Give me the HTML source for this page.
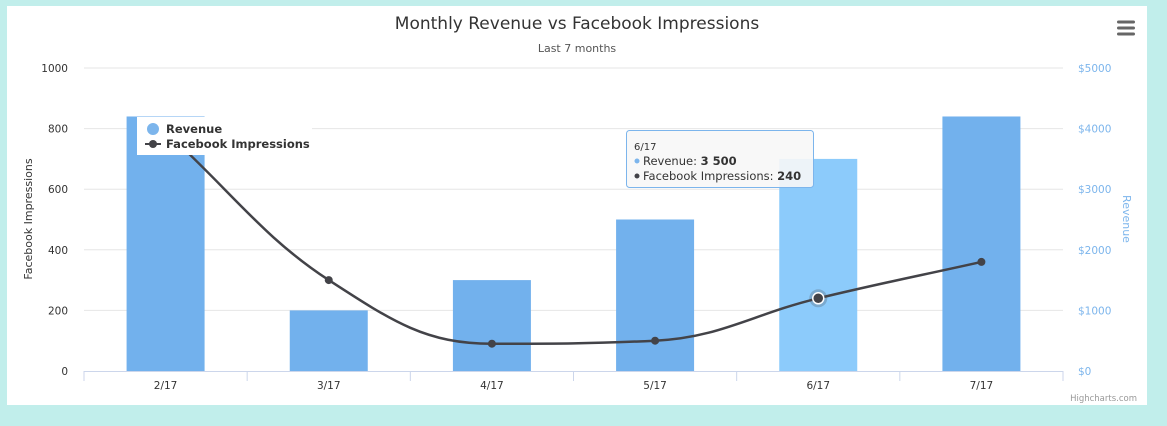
<!DOCTYPE html>
<html><head><meta charset="utf-8"><style>
body{margin:0;background:#c1eeeb;font-family:"DejaVu Sans","Liberation Sans",sans-serif;}
#wrap{position:absolute;left:7px;top:6px;width:1140px;height:399px;background:#fff;}
svg{position:absolute;left:0;top:0;font-family:"DejaVu Sans","Liberation Sans",sans-serif}
</style></head><body>
<div id="wrap"></div>
<svg id="c" width="1167" height="426"></svg>
<script>
const categories=["2/17","3/17","4/17","5/17","6/17","7/17"];
const revenue=[4200,1000,1500,2500,3500,4200];
const impressions=[790,300,90,100,240,360];
const leftTicks=[0,200,400,600,800,1000];
const rightTicks=["$0","$1000","$2000","$3000","$4000","$5000"];
const NS="http://www.w3.org/2000/svg";
const svg=document.getElementById('c');
function mk(t,a,txt){const e=document.createElementNS(NS,t);for(const k in a)e.setAttribute(k,a[k]);if(txt!=null)e.textContent=txt;svg.appendChild(e);return e;}
const X0=84,X1=1063,Y0=371,Y1=68;
const cw=(X1-X0)/categories.length;
const xc=i=>X0+cw*(i+0.5);
const yL=v=>Y0-(v/1000)*(Y0-Y1);
const yR=v=>Y0-(v/5000)*(Y0-Y1);
leftTicks.forEach((t,i)=>{const y=yL(t);
 if(i>0){const g=mk('line',{x1:X0,x2:X1,y1:y,y2:y,stroke:'#e6e6e6'});}
 const l=mk('text',{x:68,y:y+4,'text-anchor':'end','font-size':10.5,fill:'#333'},t);
 const r=mk('text',{x:1078,y:y+4,'font-size':10.5,fill:'#7cb5ec'},rightTicks[i]);
});
revenue.forEach((v,i)=>{const b=mk('rect',{x:xc(i)-39,y:yR(v),width:78,height:Y0-yR(v),fill:i==4?'#8ccbfb':'#72b1ed'});
 });
const ax=mk('line',{x1:X0,x2:X1,y1:Y0+0.5,y2:Y0+0.5,stroke:'#ccd6eb'});
for(let i=0;i<=categories.length;i++){const x=X0+cw*i;mk('line',{x1:x,x2:x,y1:Y0,y2:Y0+10,stroke:'#ccd6eb'});}
categories.forEach((c,i)=>{const t=mk('text',{x:xc(i),y:389,'text-anchor':'middle','font-size':10.5,fill:'#333'},c);});
const pts=impressions.map((v,i)=>[xc(i),yL(v)]);
let d='M'+pts[0][0]+','+pts[0][1];
function ctl(i){const p=pts[i],a=pts[i-1]||p,b=pts[i+1]||p;const s=1.5,den=s+1;
 let lx=(s*p[0]+a[0])/den,ly=(s*p[1]+a[1])/den,rx=(s*p[0]+b[0])/den,ry=(s*p[1]+b[1])/den;
 if(i>0&&i<pts.length-1){const cor=((ry-ly)*(rx-p[0]))/(rx-lx)+p[1]-ry;ly+=cor;ry+=cor;
  if(ly>Math.max(a[1],p[1])||ly<Math.min(a[1],p[1])){ly=Math.max(Math.min(ly,Math.max(a[1],p[1])),Math.min(a[1],p[1]));ry=2*p[1]-ly;}
  if(ry>Math.max(b[1],p[1])||ry<Math.min(b[1],p[1])){ry=Math.max(Math.min(ry,Math.max(b[1],p[1])),Math.min(b[1],p[1]));ly=2*p[1]-ry;}}
 return [[lx,ly],[rx,ry]];}
for(let i=1;i<pts.length;i++){const c1=ctl(i-1)[1],c2=ctl(i)[0];d+=` C${c1[0]},${c1[1]} ${c2[0]},${c2[1]} ${pts[i][0]},${pts[i][1]}`;}
const ln=mk('path',{d:d,fill:'none',stroke:'#434348','stroke-width':2.5});
pts.forEach((p,i)=>{if(i==4){mk('circle',{cx:p[0],cy:p[1],r:9,fill:'#434348','fill-opacity':0.25});const m=mk('circle',{cx:p[0],cy:p[1],r:5.5,fill:'#434348',stroke:'#fff','stroke-width':1.5});}
 else{const m=mk('circle',{cx:p[0],cy:p[1],r:4,fill:'#434348'});}});
let t=mk('text',{x:577,y:29,'text-anchor':'middle','font-size':17,fill:'#333'},'Monthly Revenue vs Facebook Impressions');
t=mk('text',{x:577,y:52,'text-anchor':'middle','font-size':11,fill:'#555'},'Last 7 months');
t=mk('text',{x:32,y:219,'text-anchor':'middle','font-size':11,fill:'#333',transform:'rotate(-90 32 219)'},'Facebook Impressions');
t=mk('text',{x:1123,y:219,'text-anchor':'middle','font-size':11,fill:'#7cb5ec',transform:'rotate(90 1123 219)'},'Revenue');
t=mk('text',{x:1137,y:401,'text-anchor':'end','font-size':8.5,fill:'#999'},'Highcharts.com');
const mg=mk('g',{});
[22,28,34].forEach(y=>{const r=document.createElementNS(NS,'rect');r.setAttribute('x',1117);r.setAttribute('y',y-1.5);r.setAttribute('width',18);r.setAttribute('height',3);r.setAttribute('rx',1.5);r.setAttribute('fill','#666');mg.appendChild(r);});
const lg=mk('rect',{x:137,y:117,width:175,height:38,fill:'#fff'});
mk('circle',{cx:153,cy:129,r:6,fill:'#7cb5ec'});
t=mk('text',{x:166,y:133,'font-size':11.5,'font-weight':'bold',fill:'#333'},'Revenue');
mk('line',{x1:145,x2:161,y1:144,y2:144,stroke:'#434348','stroke-width':2});mk('circle',{cx:153,cy:144,r:4,fill:'#434348'});
t=mk('text',{x:166,y:148,'font-size':11.5,'font-weight':'bold',fill:'#333'},'Facebook Impressions');
const tb=mk('rect',{x:626.5,y:130.5,width:187,height:57,rx:3,fill:'#f7f7f7','fill-opacity':0.9,stroke:'#7cb5ec'});
mk('text',{x:634,y:150,'font-size':10,fill:'#333'},categories[4]);
mk('circle',{cx:637,cy:161,r:2.5,fill:'#7cb5ec'});
const t1=mk('text',{x:643,y:165,'font-size':11.5,fill:'#333'},'Revenue: ');const b1=document.createElementNS(NS,'tspan');b1.setAttribute('font-weight','bold');b1.textContent=revenue[4].toLocaleString('fr-FR').replace(/\s/g,' ');t1.appendChild(b1);
mk('circle',{cx:637,cy:176,r:2.5,fill:'#434348'});
const t2=mk('text',{x:643,y:180,'font-size':11.5,fill:'#333'},'Facebook Impressions: ');const b2=document.createElementNS(NS,'tspan');b2.setAttribute('font-weight','bold');b2.textContent=impressions[4];t2.appendChild(b2);
</script>
</body></html>
